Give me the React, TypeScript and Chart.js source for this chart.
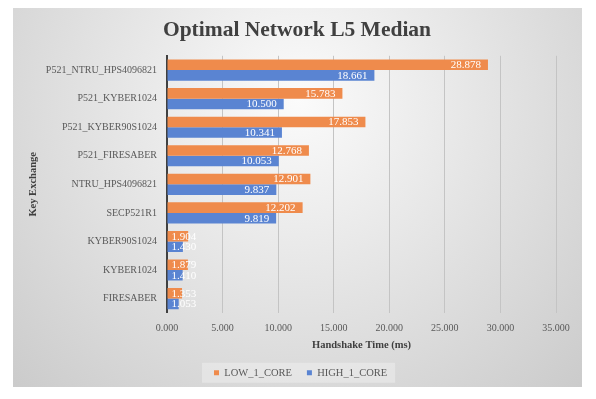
import React, { useEffect, useRef } from 'react';
import { Chart, registerables } from 'chart.js';

Chart.register(...registerables);

const categories = [
  'P521_NTRU_HPS4096821',
  'P521_KYBER1024',
  'P521_KYBER90S1024',
  'P521_FIRESABER',
  'NTRU_HPS4096821',
  'SECP521R1',
  'KYBER90S1024',
  'KYBER1024',
  'FIRESABER',
];
const lowValues = [28.878, 15.783, 17.853, 12.768, 12.901, 12.202, 1.904, 1.879, 1.353];
const highValues = [18.661, 10.5, 10.341, 10.053, 9.837, 9.819, 1.43, 1.41, 1.053];
const seriesNames = ['LOW_1_CORE', 'HIGH_1_CORE'];
const seriesColors = ['#EF8B4C', '#5A84D2'];
const titleText = 'Optimal Network L5 Median';
const xTitle = 'Handshake Time (ms)';
const yTitle = 'Key Exchange';
const xMin = 0;
const xMax = 35;
const xStep = 5;

const SERIF = '"Liberation Serif", "Times New Roman", serif';

const bgPlugin = {
  id: 'panelBg',
  afterLayout(chart: any) {
    const lg = chart.legend;
    if (lg && lg.lineWidths && lg.lineWidths.length) {
      const pad = lg.options.labels.padding;
      const start = (lg.left + pad + lg.right - lg.lineWidths[0]) / 2;
      const delta = 214 - start;
      lg.left += delta;
      lg.right += delta;
    }
    const tb = chart.titleBlock;
    if (tb) {
      const c = (tb.left + tb.right) / 2;
      const d = 297 - c;
      tb.left += d;
      tb.right += d;
    }
  },
  beforeDraw(chart: any) {
    const { ctx, width, height } = chart;
    ctx.save();
    ctx.fillStyle = '#ffffff';
    ctx.fillRect(0, 0, width, height);
    const g = ctx.createRadialGradient(298, 100, 0, 298, 100, 430);
    g.addColorStop(0, '#fbfbfb');
    g.addColorStop(1, '#c8c8c8');
    ctx.fillStyle = g;
    ctx.fillRect(13, 8, 569, 379);
    const lg = chart.legend;
    if (lg && lg.legendHitBoxes && lg.legendHitBoxes.length) {
      const boxes = lg.legendHitBoxes;
      let x0 = Infinity, x1 = -Infinity, y0 = Infinity, y1 = -Infinity;
      boxes.forEach((b: any) => {
        x0 = Math.min(x0, b.left);
        x1 = Math.max(x1, b.left + b.width);
        y0 = Math.min(y0, b.top);
        y1 = Math.max(y1, b.top + b.height);
      });
      const cy = (y0 + y1) / 2;
      ctx.fillStyle = 'rgba(255,255,255,0.3)';
      ctx.fillRect(x0 - 12, cy - 10, x1 - x0 + 20, 20);
    }
    ctx.restore();
  },
};

const labelPlugin = {
  id: 'barLabels',
  afterDatasetsDraw(chart: any) {
    const ctx = chart.ctx;
    ctx.save();
    ctx.font = '11px ' + SERIF;
    ctx.fillStyle = '#ffffff';
    ctx.textBaseline = 'middle';
    ctx.textAlign = 'left';
    chart.data.datasets.forEach((ds: any, di: number) => {
      const meta = chart.getDatasetMeta(di);
      meta.data.forEach((bar: any, i: number) => {
        const v = ds.data[i] as number;
        const text = v.toFixed(3);
        const w = ctx.measureText(text).width;
        const p = bar.getProps(['x', 'y', 'base'], true);
        let tx = p.x - 7 - w;
        if (tx < p.base + 4) tx = p.base + 4;
        ctx.fillText(text, tx, p.y + 0.5);
      });
    });
    ctx.restore();
  },
};

export default function App() {
  const ref = useRef<HTMLCanvasElement | null>(null);

  useEffect(() => {
    document.body.style.margin = '0';
    const canvas = ref.current;
    if (!canvas) return;
    const chart = new Chart(canvas, {
      type: 'bar',
      data: {
        labels: categories,
        datasets: [
          {
            label: seriesNames[0],
            data: lowValues,
            backgroundColor: seriesColors[0],
            borderWidth: 0,
            categoryPercentage: 0.74,
            barPercentage: 1,
          },
          {
            label: seriesNames[1],
            data: highValues,
            backgroundColor: seriesColors[1],
            borderWidth: 0,
            categoryPercentage: 0.74,
            barPercentage: 1,
          },
        ],
      },
      options: {
        indexAxis: 'y',
        responsive: false,
        animation: false,
        devicePixelRatio: 1,
        layout: { padding: { top: 8, left: 27, right: 40, bottom: 11 } },
        scales: {
          x: {
            min: xMin,
            max: xMax,
            ticks: {
              stepSize: xStep,
              color: '#595959',
              font: { family: SERIF, size: 10 },
              padding: 9,
              callback: (v: any) => Number(v).toFixed(3),
            },
            grid: { color: '#c4c4c4', lineWidth: 1, drawTicks: false },
            border: { display: false },
            title: {
              display: true,
              text: xTitle,
              color: '#404040',
              font: { family: SERIF, size: 10.5, weight: 'bold' },
              padding: { top: -4, bottom: 1 },
            },
          },
          y: {
            afterFit: (scale: any) => {
              scale.width = 140;
            },
            ticks: {
              color: '#595959',
              font: { family: SERIF, size: 10 },
              padding: 10,
            },
            grid: { display: false, drawTicks: false },
            border: { display: true, color: '#404040', width: 2 },
            title: {
              display: true,
              text: yTitle,
              color: '#404040',
              font: { family: SERIF, size: 10.5, weight: 'bold' },
              padding: { top: 0, bottom: 0 },
            },
          },
        },
        plugins: {
          title: {
            display: true,
            text: titleText,
            color: '#404040',
            font: { family: SERIF, size: 21.5, weight: 'bold' },
            padding: { top: 10, bottom: 12 },
          },
          legend: {
            position: 'bottom',
            labels: {
              color: '#595959',
              font: { family: SERIF, size: 10.5 },
              boxWidth: 5,
              boxHeight: 5,
              padding: 15,
            },
          },
          tooltip: { enabled: false },
        },
      },
      plugins: [bgPlugin, labelPlugin],
    } as any);
    return () => chart.destroy();
  }, []);

  return <canvas ref={ref} width={596} height={399} style={{ display: 'block' }} />;
}
